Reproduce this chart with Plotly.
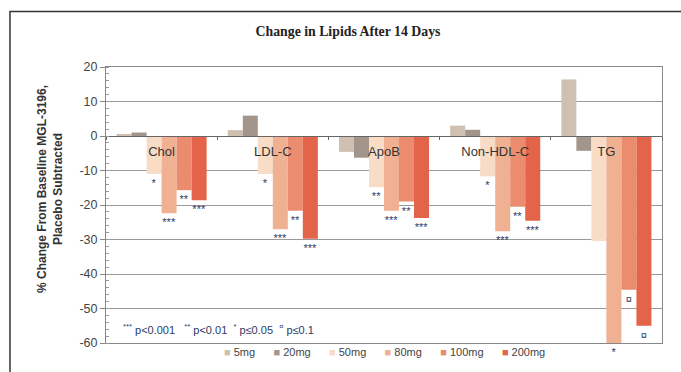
import plotly.graph_objects as go

categories = ["Chol", "LDL-C", "ApoB", "Non-HDL-C", "TG"]
doses = ["5mg", "20mg", "50mg", "80mg", "100mg", "200mg"]

v_5mg = [0.6, 1.7, -4.6, 3.0, 16.4]
v_20mg = [1.0, 5.9, -6.3, 1.8, -4.3]
v_50mg = [-11.0, -11.0, -14.8, -11.7, -30.4]
v_80mg = [-22.4, -27.0, -21.7, -27.6, -60.0]
v_100mg = [-15.7, -21.7, -19.0, -20.5, -44.6]
v_200mg = [-18.6, -29.8, -23.8, -24.6, -55.0]

s_5mg = None
s_20mg = None
s_50mg = ["*", "*", "**", "*", None]
s_80mg = ["***", "***", "***", "***", "*"]
s_100mg = ["**", "**", "**", "**", "¤"]
s_200mg = ["***", "***", "***", "***", "¤"]

y_tickvals = [20, 10, 0, -10, -20, -30, -40, -50, -60]
y_ticktext = ["20", "10", "0", "-10", "-20", "-30", "-40", "-50", "-60"]

values = [v_5mg, v_20mg, v_50mg, v_80mg, v_100mg, v_200mg]
sigs = [s_5mg, s_20mg, s_50mg, s_80mg, s_100mg, s_200mg]
colors = ["#cfc0b1", "#a3958a", "#f8dcc6", "#f0b193", "#ea8c6d", "#e4644a"]

FONT = "Liberation Sans, Arial, sans-serif"
NAVY = "#2b3a67"

fig = go.Figure()
for name, vals, sg, col in zip(doses, values, sigs, colors):
    kw = {}
    if sg is not None:
        kw = dict(text=sg, textposition="outside", constraintext="none",
                  textfont=dict(family=FONT, size=11, color=NAVY))
    fig.add_trace(go.Bar(
        name=name, x=categories, y=vals, marker=dict(color=col, line=dict(width=0)),
        cliponaxis=False, showlegend=False, **kw,
    ))

# helper trace for the zero-line axis carrying category labels
fig.add_trace(go.Scatter(x=categories, y=[None] * len(categories), xaxis="x2",
                         showlegend=False, hoverinfo="skip", mode="markers"))

legend_text = "&nbsp;&nbsp;&nbsp;&nbsp;&nbsp;&nbsp;".join(
    f"<span style='color:{c}'>■</span> {d}" for d, c in zip(doses, colors))

fig.update_layout(
    width=681, height=372,
    margin=dict(l=106, r=19, t=67, b=29, autoexpand=False),
    paper_bgcolor="white", plot_bgcolor="white",
    barmode="group", bargap=0.19, bargroupgap=0,
    font=dict(family=FONT, color="#444"),
    title=dict(text="<b>Change in Lipids After 14 Days</b>", x=0.511, xanchor="center",
               xref="container", yref="container",
               y=1 - 31 / 372, yanchor="middle", automargin=False,
               font=dict(family="Liberation Serif, Times New Roman, serif", size=13.8, color="#222")),
    xaxis=dict(range=[-0.5, 4.5], showticklabels=False, ticks="", showline=True,
               linecolor="#888", linewidth=1, mirror=True, showgrid=False, automargin=False),
    xaxis2=dict(overlaying="x", anchor="free", position=0.75, matches="x",
                type="category", categoryarray=categories, showline=True, linecolor="#666",
                linewidth=1, ticks="outside", tickson="boundaries", ticklen=3, tickcolor="#666",
                ticklabelstandoff=3, tickfont=dict(family=FONT, size=13, color="#333"),
                showgrid=False, automargin=False),
    yaxis=dict(range=[-60, 20], tickvals=y_tickvals, ticktext=y_ticktext,
               showline=True, linecolor="#888", linewidth=1, automargin=False,
               mirror=True, ticks="outside", ticklen=5, tickcolor="#888",
               tickfont=dict(family=FONT, size=12.5, color="#444"),
               showgrid=True, gridcolor="#9a9a9a", gridwidth=1, zeroline=False,
               minor=dict(dtick=2, ticks="inside", ticklen=3, tickcolor="#999", showgrid=False)),
    showlegend=False,
    annotations=[
        dict(text="<b>% Change From Baseline MGL-3196,<br>Placebo Subtracted</b>",
             xref="paper", yref="paper", x=-0.1007, y=0.558, xanchor="center", yanchor="middle",
             textangle=-90, showarrow=False, font=dict(family=FONT, size=12, color="#333")),
        dict(text="<sup>***</sup> p<0.001 &nbsp;&nbsp;<sup>**</sup> p<0.01 &nbsp;<sup>*</sup> p≤0.05 &nbsp;<sup>¤</sup> p≤0.1",
             xref="paper", yref="paper", x=0.027, y=0.052, xanchor="left", yanchor="middle",
             showarrow=False, font=dict(family=FONT, size=11, color=NAVY)),
        dict(text=legend_text, xref="paper", yref="paper", x=0.5, y=-0.033,
             xanchor="center", yanchor="middle", showarrow=False,
             font=dict(family=FONT, size=11, color="#444")),
    ],
    shapes=[dict(type="rect", xref="paper", yref="paper", x0=-0.1727, y0=-0.2, x1=1.2, y1=1.201,
                 line=dict(color="#333", width=1.5), fillcolor="rgba(0,0,0,0)", layer="below")],
)

fig.write_html("out.html", config={"displayModeBar": False},
               post_script="document.body.style.margin='0';")
